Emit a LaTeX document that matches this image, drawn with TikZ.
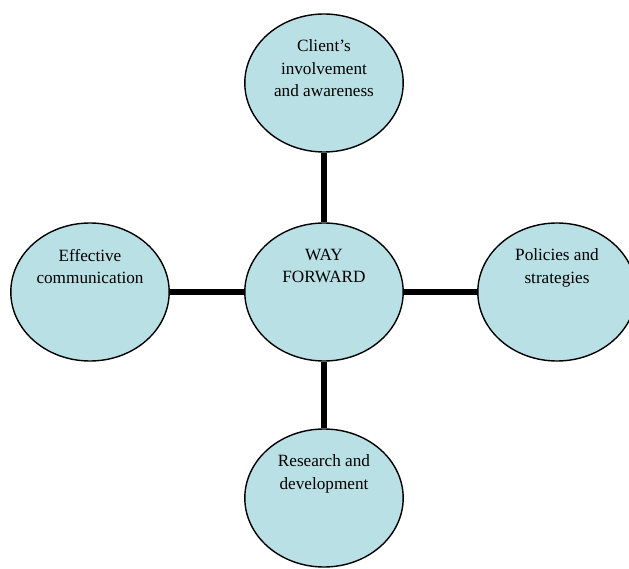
\documentclass[tikz,border=0pt]{standalone}
\usepackage{fontspec}
\setmainfont{Liberation Serif}
\usetikzlibrary{shapes.geometric}
\definecolor{bubblefill}{RGB}{185,224,229}
\newcommand{\bubbletext}[1]{\parbox[c][86pt][t]{112pt}{\centering #1}}

\begin{document}
\begin{tikzpicture}[
    x=1pt, y=-1pt,
    bubble/.style={ellipse, draw, line width=1.4pt, fill=bubblefill, inner sep=0pt,
        minimum width=158pt, minimum height=138pt,
        font=\fontsize{17.2}{22.5}\selectfont},
    bar/.style={line width=6.5pt}
]
    \clip (0,0) rectangle (629,569);
    \useasboundingbox (0,0) rectangle (629,569);

    \node[bubble] (way) at (324,292) {\bubbletext{WAY\\FORWARD}};

    \node[bubble] (client) at (324,83) {\bubbletext{Client's\\involvement\\and awareness}};
    \node[bubble] (comm) at (90,292) {\bubbletext{Effective\\communication}};
    \node[bubble] (policy) at (557,292) {\bubbletext{Policies and\\strategies}};
    \node[bubble] (research) at (324,498) {\bubbletext{Research and\\development}};

    \draw[bar] (way) -- (client);
    \draw[bar] (way) -- (comm);
    \draw[bar] (way) -- (policy);
    \draw[bar] (way) -- (research);

\end{tikzpicture}
\end{document}
